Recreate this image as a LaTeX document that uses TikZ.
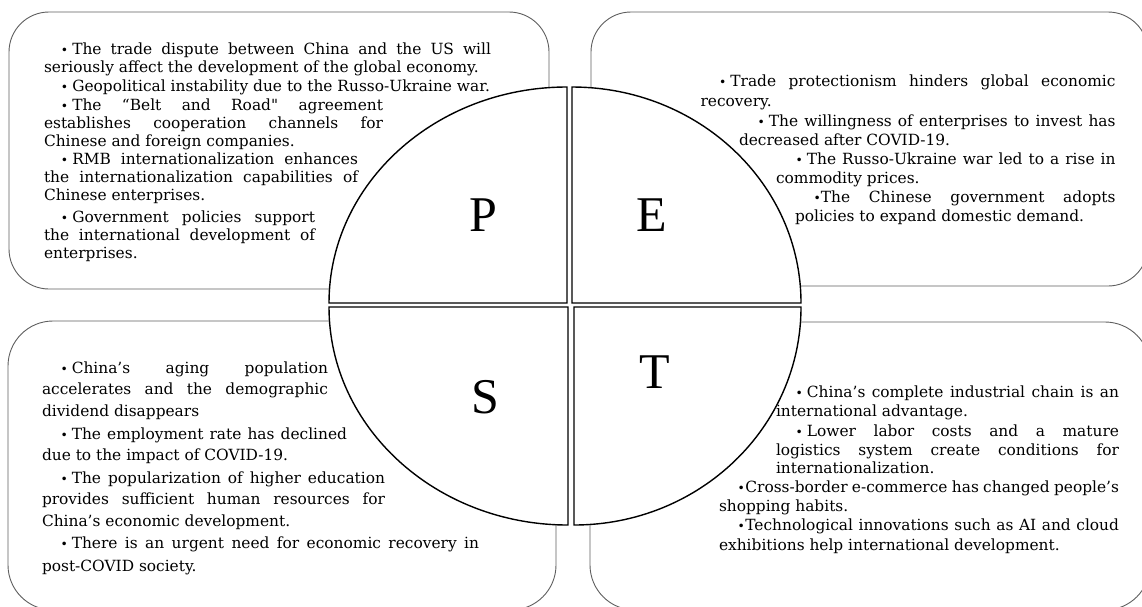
\documentclass[tikz,border=0pt]{standalone}
\usepackage{fontspec}
\setmainfont{DejaVu Serif}
\newfontfamily\txtfont{DejaVu Serif}
\newfontfamily\letterfont{Liberation Serif}
\definecolor{boxgray}{HTML}{5E5E5E}
\newcommand\bul{\scalebox{0.8}{•}}
\newcommand\firstj[2]{\hspace*{#1pt}\makebox[\dimexpr\linewidth-#1pt\relax][s]{#2}\\}
\newcommand\midj[1]{\makebox[\linewidth][s]{#1}\\}
\newcommand\firstl[2]{\hspace*{#1pt}#2}
\newcommand\para[6]{\node[txt] (#1) at (#2,#4) {\parbox[t]{\dimexpr#3pt-#2pt\relax}{\txtfont\fontsize{15.4pt}{#5pt}\selectfont\setlength{\parindent}{0pt}#6}};}
\begin{document}
\begin{tikzpicture}[x=1pt,y=-1pt,
  panel/.style={draw=boxgray,line width=0.9pt},
  quad/.style={draw=black,line width=1.4pt,fill=white,line join=miter},
  txt/.style={anchor=base west,inner sep=0pt,outer sep=0pt},
  letter/.style={inner sep=0pt,font=\letterfont\fontsize{50pt}{50pt}\selectfont}]
\useasboundingbox (0,0) rectangle (1142,606);
\clip (0,0) rectangle (1142,606);
% panels
\draw[panel,rounded corners=40pt] (9,12) rectangle (549,289);
\draw[panel,rounded corners=40pt] (591,12) rectangle (1148,286);
\draw[panel,rounded corners=45pt] (8,321) rectangle (556,610);
\draw[panel,rounded corners=45pt] (590,322) rectangle (1150,610);
% quadrants
\draw[quad] (567,303) -- (329,303) arc[start angle=180,end angle=90,x radius=238pt,y radius=216pt] -- cycle;
\draw[quad] (572,303) -- (572,87) arc[start angle=90,end angle=0,x radius=229pt,y radius=216pt] -- cycle;
\draw[quad] (568,307) -- (329,307) arc[start angle=180,end angle=270,x radius=239pt,y radius=218pt] -- cycle;
\draw[quad] (574,307) -- (574,525) arc[start angle=270,end angle=360,x radius=227pt,y radius=218pt] -- cycle;
% letters
\node[letter] (P) at (483,215) {P};
\node[letter] (E) at (652,215) {E};
\node[letter] (S) at (485,397) {S};
\node[letter] (T) at (655,372) {T};
% Political
\para{p1}{44}{491}{54.3}{18.5}{\firstj{17}{\bul\hspace{4pt}The trade dispute between China and the US will}seriously affect the development of the global economy.}
\para{p2}{44}{510}{91}{18.5}{\firstl{17}{\bul\hspace{4pt}Geopolitical instability due to the Russo-Ukraine war.}}
\para{p3}{44}{383}{110}{18}{\firstj{17}{\bul\hspace{4pt}The “Belt and Road" agreement}\midj{establishes cooperation channels for}Chinese and foreign companies.}
\para{p4}{44}{358}{164.3}{18}{\firstj{17}{\bul\hspace{4pt}RMB internationalization enhances}\midj{the internationalization capabilities of}Chinese enterprises.}
\para{p5}{44}{315}{222.3}{18.3}{\firstj{17}{\bul\hspace{4pt}Government policies support}\midj{the international development of}enterprises.}
% Economic
\para{e1}{700.6}{1115.5}{86.7}{19.5}{\firstj{18.5}{\bul\hspace{4pt}Trade protectionism hinders global economic}recovery.}
\para{e2}{739}{1115.5}{126}{19}{\firstj{18.6}{\bul\hspace{4pt}The willingness of enterprises to invest has}decreased after COVID-19.}
\para{e3}{776}{1115.5}{164.3}{19}{\firstj{19.6}{\bul\hspace{4pt}The Russo-Ukraine war led to a rise in}commodity prices.}
\para{e4}{795}{1115.5}{202.3}{18.7}{\firstj{18.6}{\bul The Chinese government adopts}policies to expand domestic demand.}
% Social
\para{s1}{42}{328}{373}{21.6}{\firstj{18.5}{\bul\hspace{4pt}China’s aging population}\midj{accelerates and the demographic}dividend disappears}
\para{s2}{42}{347}{439.7}{21}{\firstj{18.5}{\bul\hspace{4pt}The employment rate has declined}due to the impact of COVID-19.}
\para{s3}{42}{385}{483}{21.7}{\firstj{18.5}{\bul\hspace{4pt}The popularization of higher education}\midj{provides sufficient human resources for}China’s economic development.}
\para{s4}{42}{479}{548.7}{22.6}{\firstj{18.5}{\bul\hspace{4pt}There is an urgent need for economic recovery in}post-COVID society.}
% Technological
\para{t1}{776}{1119}{397.3}{19}{\firstj{19.6}{\bul\hspace{4pt}China’s complete industrial chain is an}international advantage.}
\para{t2}{776}{1119}{436.3}{18.7}{\firstj{19.6}{\bul\hspace{4pt}Lower labor costs and a mature}\midj{logistics system create conditions for}internationalization.}
\para{t3}{719}{1119}{492.3}{19}{\firstj{18.6}{\bul\hspace{0.5pt}Cross-border e-commerce has changed people’s}shopping habits.}
\para{t4}{719}{1119}{530.7}{19.6}{\firstj{18.6}{\bul\hspace{0.5pt}Technological innovations such as AI and cloud}exhibitions help international development.}
\end{tikzpicture}
\end{document}
